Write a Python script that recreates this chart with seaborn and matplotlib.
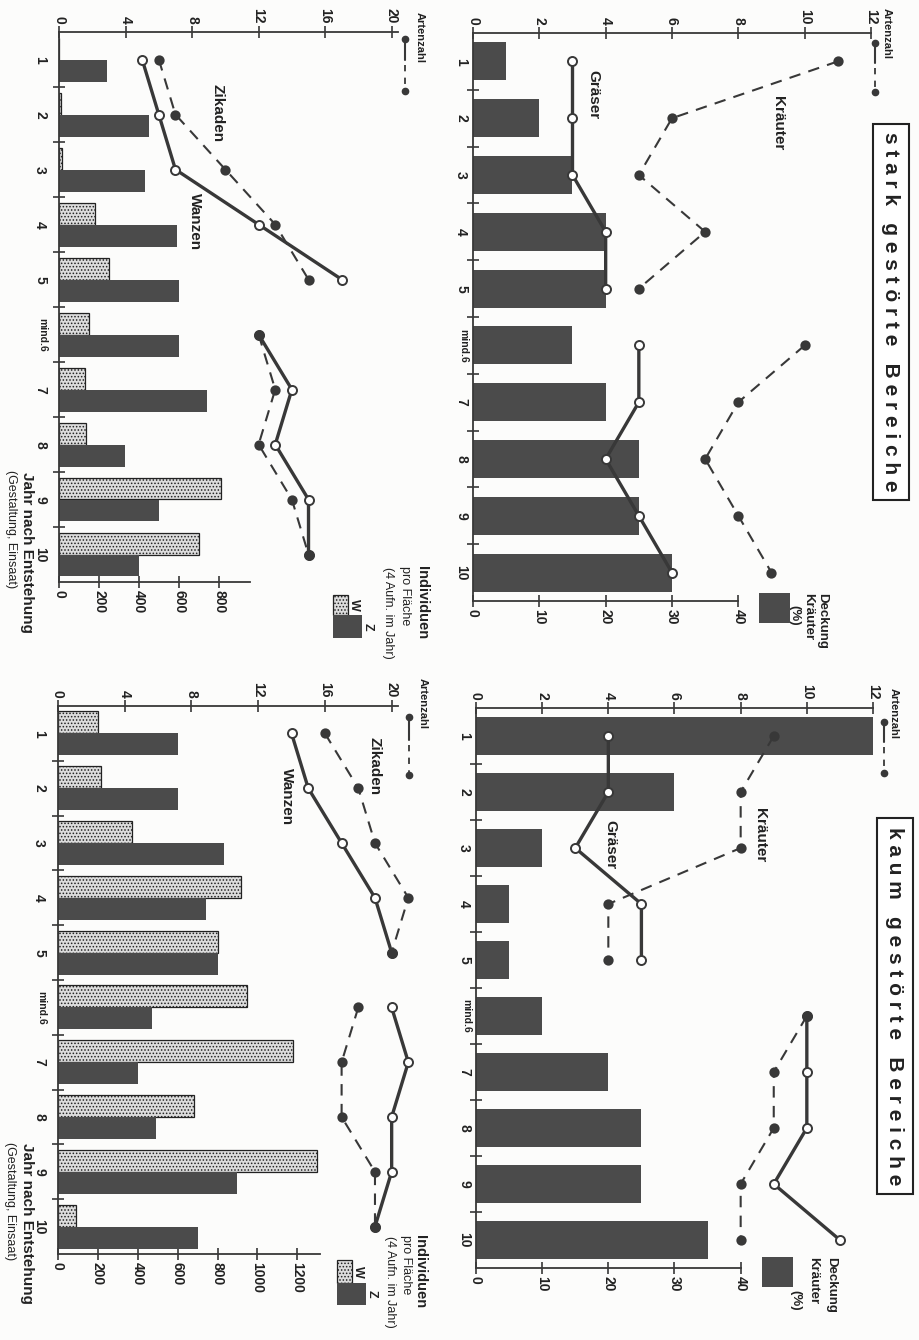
import pandas as pd
import matplotlib
matplotlib.use("Agg")
import matplotlib.pyplot as plt
from matplotlib.lines import Line2D
from matplotlib.patches import Rectangle
from matplotlib.colors import same_color
import seaborn as sns

# ---------------- data ----------------
years = [1, 2, 3, 4, 5, 6, 7, 8, 9, 10]
year_labels = ["1", "2", "3", "4", "5", "mind.6", "7", "8", "9", "10"]
segment = [1, 1, 1, 1, 1, 2, 2, 2, 2, 2]   # lines break between year 5 and "mind.6"

# stark gestoerte Bereiche - Pflanzen
stark_deckung = [5, 10, 15, 20, 20, 15, 20, 25, 25, 30]
stark_kraeuter = [11, 6, 5, 7, 5, 10, 8, 7, 8, 9]
stark_graeser = [3, 3, 3, 4, 4, 5, 5, 4, 5, 6]

# kaum gestoerte Bereiche - Pflanzen
kaum_deckung = [60, 30, 10, 5, 5, 10, 20, 25, 25, 35]
kaum_kraeuter = [9, 8, 8, 4, 4, 10, 9, 9, 8, 8]
kaum_graeser = [4, 4, 3, 5, 5, 10, 10, 10, 9, 11]

# stark gestoerte Bereiche - Zikaden / Wanzen
stark_ind_w = [0, 8, 15, 180, 250, 150, 130, 135, 810, 700]
stark_ind_z = [240, 450, 430, 590, 600, 600, 740, 330, 500, 400]
stark_zikaden = [6, 7, 10, 13, 15, 12, 13, 12, 14, 15]
stark_wanzen = [5, 6, 7, 12, 17, 12, 14, 13, 15, 15]

# kaum gestoerte Bereiche - Zikaden / Wanzen
kaum_ind_w = [200, 215, 370, 920, 800, 950, 1180, 680, 1300, 90]
kaum_ind_z = [600, 600, 830, 740, 800, 470, 400, 490, 900, 700]
kaum_zikaden = [16, 18, 19, 21, 20, 18, 17, 17, 19, 19]
kaum_wanzen = [14, 15, 17, 19, 20, 20, 21, 20, 20, 19]

# ---------------- style ----------------
sns.set_theme(style="white")
plt.rcParams['font.family'] = ['Liberation Sans', 'DejaVu Sans']
plt.rcParams['hatch.linewidth'] = 0.7

BG = '#fcfcfb'
BAR = '#4b4b4b'
LINE = '#383838'
LIGHT = '#dcdcdc'

W, H = 920, 1340
fig = plt.figure(figsize=(W / 100, H / 100), dpi=100, facecolor=BG)


def fx(x):
    return x / W


def fy(y):
    return 1 - y / H


def rect(l, t, r, b):
    return [fx(l), fy(b), (r - l) / W, (b - t) / H]


def rtext(x, y, s, size, bold=False, ha='center', va='center', **kw):
    # rotated text, reading top to bottom like the scanned page
    fig.text(fx(x), fy(y), s, rotation=-90, fontsize=size, ha=ha, va=va,
             fontweight='bold' if bold else 'normal', color='#222222', **kw)


def species_line(ax2, values, filled):
    df = pd.DataFrame({'year': years, 'n': values, 'seg': segment})
    sns.lineplot(data=df, x='n', y='year', units='seg', estimator=None, sort=False,
                 orient='y', color=LINE,
                 linewidth=1.5 if filled else 2.4,
                 linestyle=(0, (5.5, 4)) if filled else '-',
                 marker='o', markersize=6 if filled else 6.5,
                 markerfacecolor=LINE if filled else 'white',
                 markeredgecolor=LINE, markeredgewidth=1.4, clip_on=False, ax=ax2)


def setup(ax, ax2, bottom_ticks, bottom_end, top_ticks, top_end, ypad):
    ax.set_facecolor('none')
    ax.set_ylim(10.5, 0.5)
    for s in ['top', 'right']:
        ax.spines[s].set_visible(False)
    for s in ['left', 'right', 'bottom']:
        ax2.spines[s].set_visible(False)
    ax.spines['bottom'].set_bounds(0, bottom_end)
    ax2.spines['top'].set_bounds(0, top_end)
    for sp in [ax.spines['left'], ax.spines['bottom'], ax2.spines['top']]:
        sp.set_color(LINE)
        sp.set_linewidth(1.3)
    tk = dict(rotation=-90, fontsize=10, fontweight='bold', color='#222222')
    ax.set_xticks(bottom_ticks, labels=[str(t) for t in bottom_ticks], **tk)
    ax2.set_xticks(top_ticks, labels=[str(t) for t in top_ticks], **tk)
    ax.tick_params(axis='x', direction='inout', length=8, width=1.2, color=LINE,
                   pad=2, bottom=True, top=False)
    ax2.tick_params(axis='x', direction='inout', length=8, width=1.2, color=LINE,
                    pad=2, top=True, labeltop=True, bottom=False, labelbottom=False)
    ax.set_yticks(years, labels=year_labels, rotation=-90, fontsize=10,
                  fontweight='bold', va='center', color='#222222')
    ax.set_yticks([y + 0.5 for y in years[:-1]], minor=True)
    ax.tick_params(axis='y', which='major', length=0, pad=ypad, left=True)
    ax.tick_params(axis='y', which='minor', direction='inout', length=8, width=1.2,
                   color=LINE, left=True)
    ax.get_yticklabels()[5].set_fontsize(7.5)
    ax.set_xlabel('')
    ax.set_ylabel('')
    ax2.set_xlabel('')
    ax2.set_ylabel('')


def plant_panel(box, deckung, kraeuter, graeser):
    ax = fig.add_axes(box)
    d = pd.DataFrame({'year': years, 'deckung': deckung})
    sns.barplot(data=d, x='deckung', y='year', orient='h', native_scale=True,
                width=0.67, color=BAR, saturation=1, errorbar=None, linewidth=0, ax=ax)
    ax.set_xlim(0, 60)
    ax2 = ax.twiny()
    species_line(ax2, graeser, filled=False)
    species_line(ax2, kraeuter, filled=True)
    ax2.set_xlim(0, 12)
    setup(ax, ax2, [0, 10, 20, 30, 40], 40, [0, 2, 4, 6, 8, 10, 12], 12, 3.5)
    return ax


def insect_panel(box, ind_w, ind_z, zikaden, wanzen, xmax, bottom_ticks, bottom_end):
    ax = fig.add_axes(box)
    d = pd.DataFrame({'year': years * 2, 'typ': ['W'] * 10 + ['Z'] * 10,
                      'n': ind_w + ind_z})
    sns.barplot(data=d, x='n', y='year', hue='typ', hue_order=['W', 'Z'],
                palette={'W': LIGHT, 'Z': BAR}, orient='h', native_scale=True,
                width=0.8, dodge=True, saturation=1, errorbar=None, legend=False,
                linewidth=0, ax=ax)
    for p in ax.patches:
        if same_color(p.get_facecolor(), LIGHT):
            p.set_hatch('.....')
            p.set_edgecolor('#222222')
            p.set_linewidth(0.9)
    ax.set_xlim(0, xmax)
    ax2 = ax.twiny()
    species_line(ax2, wanzen, filled=False)
    species_line(ax2, zikaden, filled=True)
    ax2.set_xlim(0, 20.5)
    setup(ax, ax2, bottom_ticks, bottom_end, [0, 4, 8, 12, 16, 20], 20.4, 8.5)
    return ax


plant_panel(rect(473, 33, 871, 601), stark_deckung, stark_kraeuter, stark_graeser)
plant_panel(rect(476, 708, 873, 1268), kaum_deckung, kaum_kraeuter, kaum_graeser)
insect_panel(rect(59, 32, 400, 582), stark_ind_w, stark_ind_z, stark_zikaden, stark_wanzen,
             1705, [0, 200, 400, 600, 800], 955)
insect_panel(rect(58, 706, 400, 1254), kaum_ind_w, kaum_ind_z, kaum_zikaden, kaum_wanzen,
             1715, [0, 200, 400, 600, 800, 1000, 1200], 1315)

# ---------------- titles ----------------
box_kw = dict(boxstyle='square,pad=0.4', fc='white', ec='#222222', lw=1.5)
rtext(891, 312, "s t a r k   g e s t ö r t e   B e r e i c h e", 15, bold=True, bbox=box_kw)
rtext(895, 1006, "k a u m   g e s t ö r t e   B e r e i c h e", 15, bold=True, bbox=box_kw)

# ---------------- line labels ----------------
rtext(778, 123, "Kräuter", 11, bold=True)
rtext(593, 95, "Gräser", 11, bold=True)
rtext(760, 835, "Kräuter", 11, bold=True)
rtext(610, 845, "Gräser", 11, bold=True)
rtext(218, 113, "Zikaden", 11, bold=True)
rtext(195, 222, "Wanzen", 11, bold=True)
rtext(375, 766, "Zikaden", 11, bold=True)
rtext(287, 797, "Wanzen", 11, bold=True)


# ---------------- Artenzahl legend symbols ----------------
def art_legend(tx, ty, x, y0, y1):
    rtext(tx, ty, "Artenzahl", 8, bold=True, va='top')
    ym = y0 + (y1 - y0) * 0.4
    fig.add_artist(Line2D([fx(x), fx(x)], [fy(y0), fy(ym)], color=LINE, lw=1.5,
                          transform=fig.transFigure))
    fig.add_artist(Line2D([fx(x), fx(x)], [fy(ym + 5), fy(y1)], color=LINE, lw=1.3,
                          ls=(0, (3.5, 3.5)), transform=fig.transFigure))
    fig.add_artist(Line2D([fx(x), fx(x)], [fy(y0), fy(y1)], ls='none', marker='o',
                          ms=4.5, color=LINE, transform=fig.transFigure))


art_legend(887, 8, 875, 43, 92)
art_legend(894, 688, 884, 722, 773)
art_legend(420, 12, 405, 39, 91)
art_legend(423, 678, 409, 717, 775)


# ---------------- Deckung legend ----------------
def deckung_legend(l, t, x1, x2, x3, t3):
    fig.add_artist(Rectangle((fx(l), fy(t + 30)), 31 / W, 30 / H, fc=BAR, ec='none',
                             transform=fig.transFigure))
    rtext(x1, t, "Deckung", 9.5, bold=True, va='top')
    rtext(x2, t, "Kräuter", 9.5, bold=True, va='top')
    rtext(x3, t3, "(%)", 9.5, bold=True, va='top')


deckung_legend(759, 593, 822, 808, 794, 605)
deckung_legend(762, 1257, 831, 813, 795, 1290)


# ---------------- Individuen legend ----------------
def ind_legend(x1, x2, x3, t, l, wt, zt, zb):
    rtext(x1, t, "Individuen", 10.5, bold=True, va='top')
    rtext(x2, t, "pro Fläche", 9, va='top')
    rtext(x3, t + 1, "(4 Aufn. im Jahr)", 9, va='top')
    fig.add_artist(Rectangle((fx(l), fy(zt)), 15 / W, (zt - wt) / H, fc=LIGHT,
                             ec='#222222', lw=0.9, hatch='.....',
                             transform=fig.transFigure))
    fig.add_artist(Rectangle((fx(l), fy(zb)), 29 / W, (zb - zt) / H, fc=BAR,
                             ec='none', transform=fig.transFigure))
    rtext(l + 21, (wt + zt) / 2, "W", 9, bold=True)
    rtext(l + 35, (zt + zb) / 2, "Z", 9, bold=True)


ind_legend(422, 405, 388, 566, 333, 595, 615, 638)
ind_legend(420, 406, 390, 1235, 337, 1260, 1283, 1305)

# ---------------- x axis title ----------------
rtext(27, 472, "Jahr nach Entstehung", 11, bold=True, va='top')
rtext(11, 470, "(Gestaltung, Einsaat)", 9, va='top')
rtext(27, 1143, "Jahr nach Entstehung", 11, bold=True, va='top')
rtext(10, 1142, "(Gestaltung, Einsaat)", 9, va='top')

fig.savefig("out.png", dpi=100, facecolor=BG)
